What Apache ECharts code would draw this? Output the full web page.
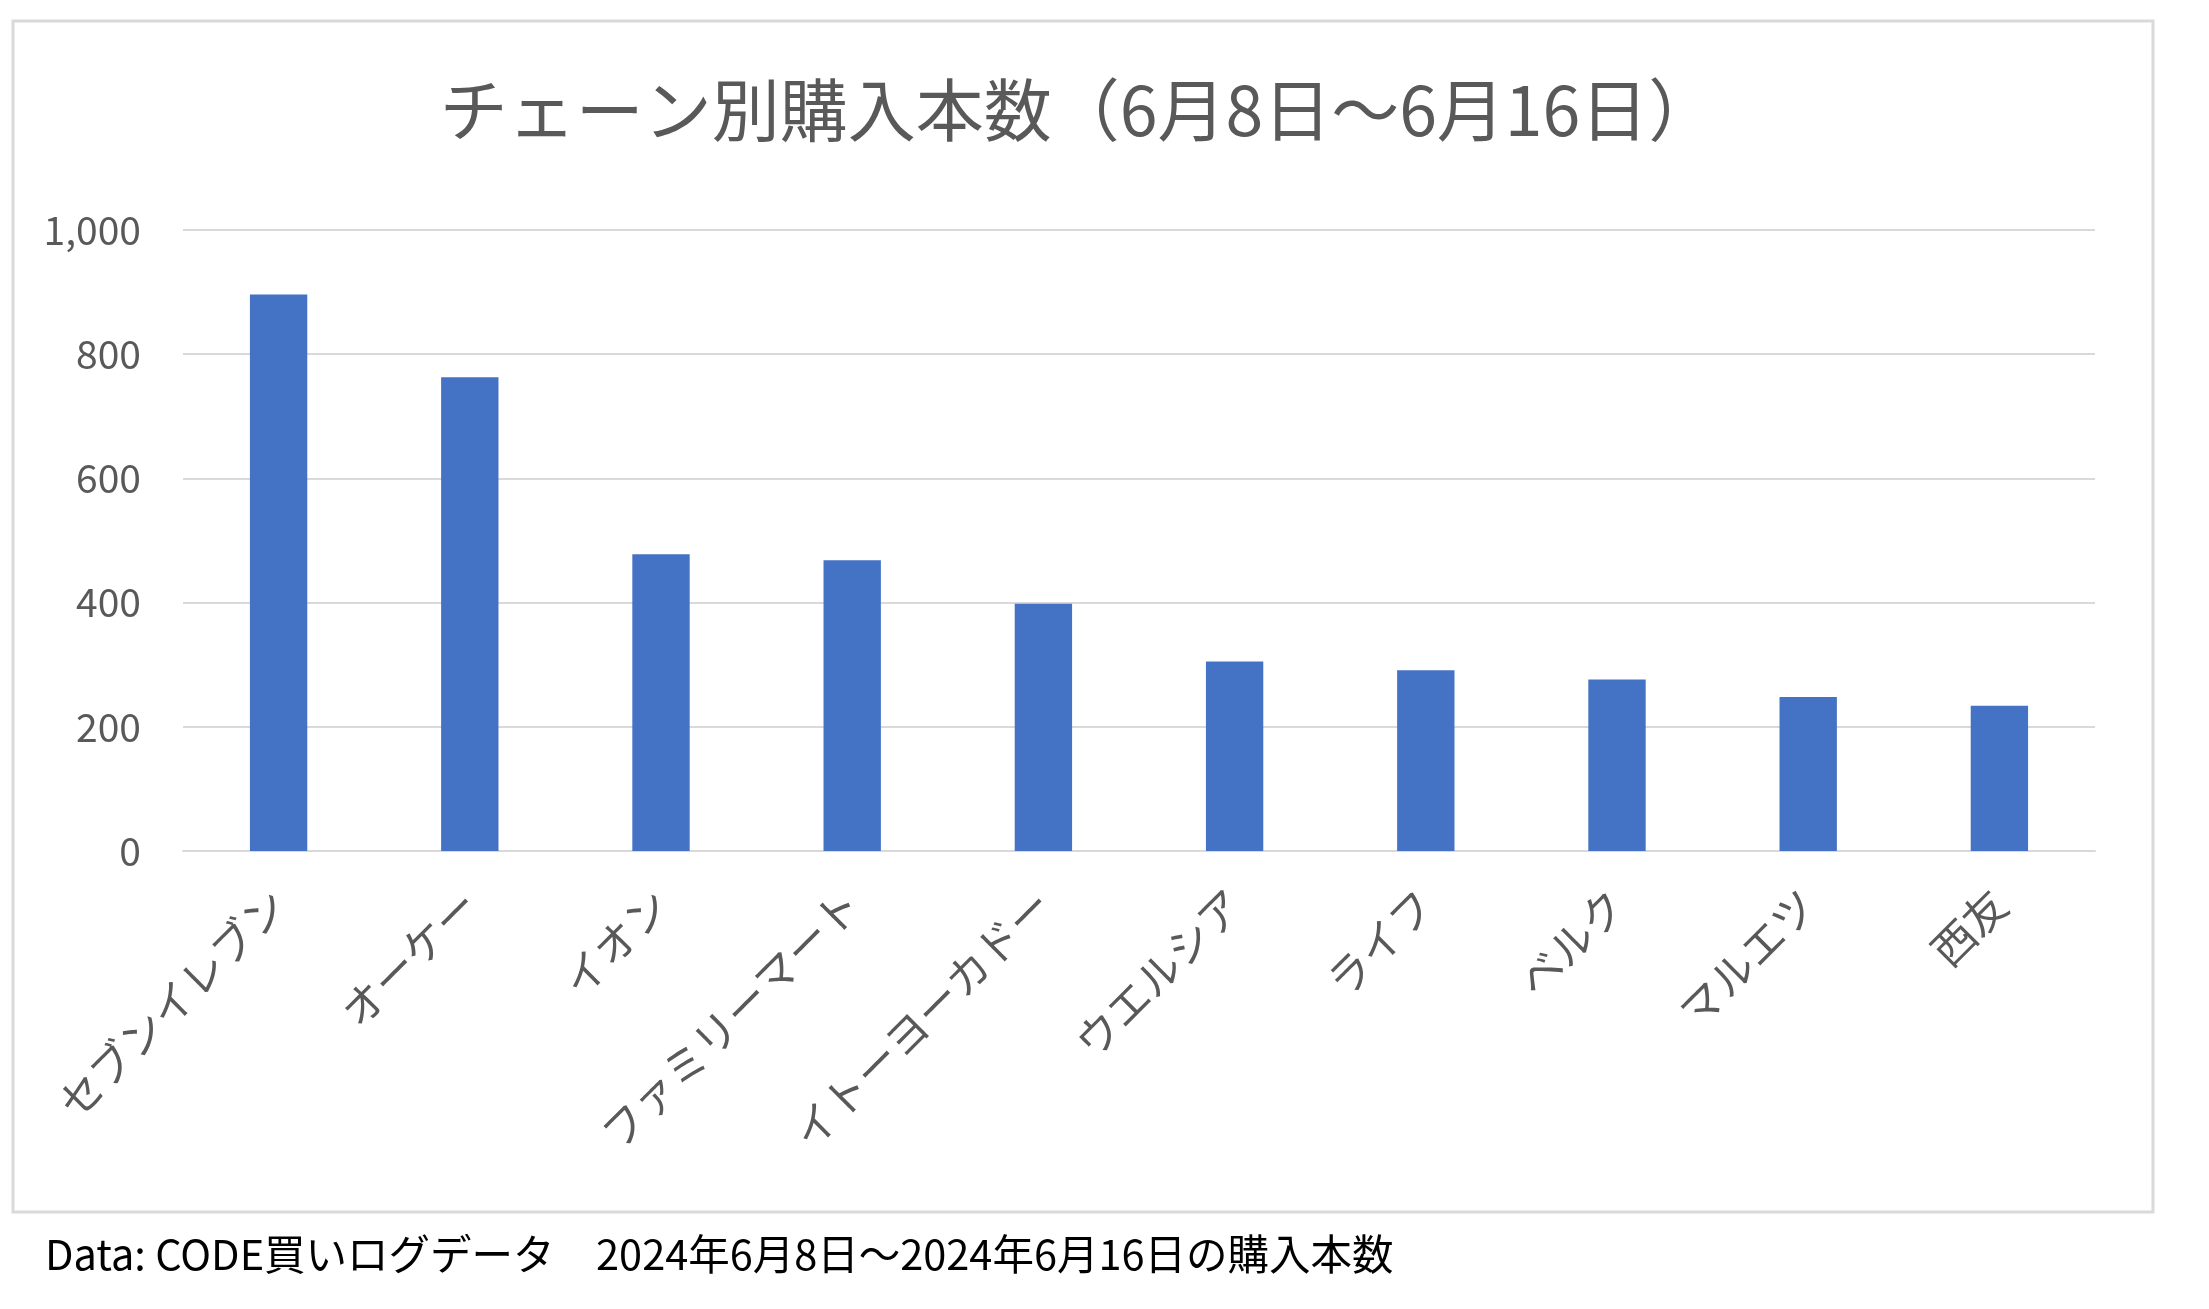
<!DOCTYPE html>
<html>
<head>
<meta charset="utf-8">
<script src="https://cdn.jsdelivr.net/npm/echarts@6/dist/echarts.min.js"></script>
<style>
  html, body { margin: 0; padding: 0; background: #fff; }
  #chart { width: 2209px; height: 1309px; }
</style>
</head>
<body>
<div id="chart"></div>
<script>
const chains = ['セブンイレブン', 'オーケー', 'イオン', 'ファミリーマート', 'イトーヨーカドー', 'ウエルシア', 'ライフ', 'ベルク', 'マルエツ', '西友']
const counts = [896, 763, 478, 468, 398, 305, 291, 276, 248, 234]
const yTicks = [0, 200, 400, 600, 800, 1000]

const titleText = 'チェーン別購入本数（6月8日～6月16日）'
const noteText = 'Data: CODE買いログデータ　2024年6月8日～2024年6月16日の購入本数'

const font = '"Noto Sans CJK JP", "Noto Sans", sans-serif'
const chart = echarts.init(document.getElementById('chart'))

const option = {
  backgroundColor: '#fff',
  animation: false,
  textStyle: { fontFamily: font },
  graphic: [
    {
      type: 'rect',
      shape: { x: 13, y: 21, width: 2140, height: 1191 },
      style: { fill: 'none', stroke: '#d9d9d9', lineWidth: 3 },
      silent: true
    },
    {
      type: 'text',
      x: 1078,
      y: 110,
      style: {
        text: titleText,
        fill: '#595959',
        font: '68px ' + font,
        textAlign: 'center',
        textVerticalAlign: 'middle'
      }
    },
    {
      type: 'text',
      x: 45,
      y: 1254,
      style: {
        text: noteText,
        fill: '#000',
        font: '41.5px ' + font,
        textAlign: 'left',
        textVerticalAlign: 'middle'
      }
    }
  ],
  grid: { left: 183, right: 114, top: 230, bottom: 458 },
  xAxis: {
    type: 'category',
    data: chains,
    axisLine: { show: true, lineStyle: { color: '#d9d9d9', width: 2 } },
    axisTick: { show: false },
    axisLabel: {
      color: '#595959',
      fontSize: 43,
      rotate: 45,
      interval: 0,
      margin: 46
    }
  },
  yAxis: {
    type: 'value',
    min: yTicks[0],
    max: yTicks[yTicks.length - 1],
    interval: 200,
    axisLine: { show: false },
    axisTick: { show: false },
    axisLabel: {
      color: '#595959',
      fontSize: 39,
      margin: 42,
      formatter: v => v.toLocaleString('en-US')
    },
    splitLine: { lineStyle: { color: '#d9d9d9', width: 2 } }
  },
  series: [
    {
      type: 'bar',
      data: counts,
      barWidth: '30%',
      itemStyle: { color: '#4472C4' }
    }
  ]
}

chart.setOption(option)
</script>
</body>
</html>
